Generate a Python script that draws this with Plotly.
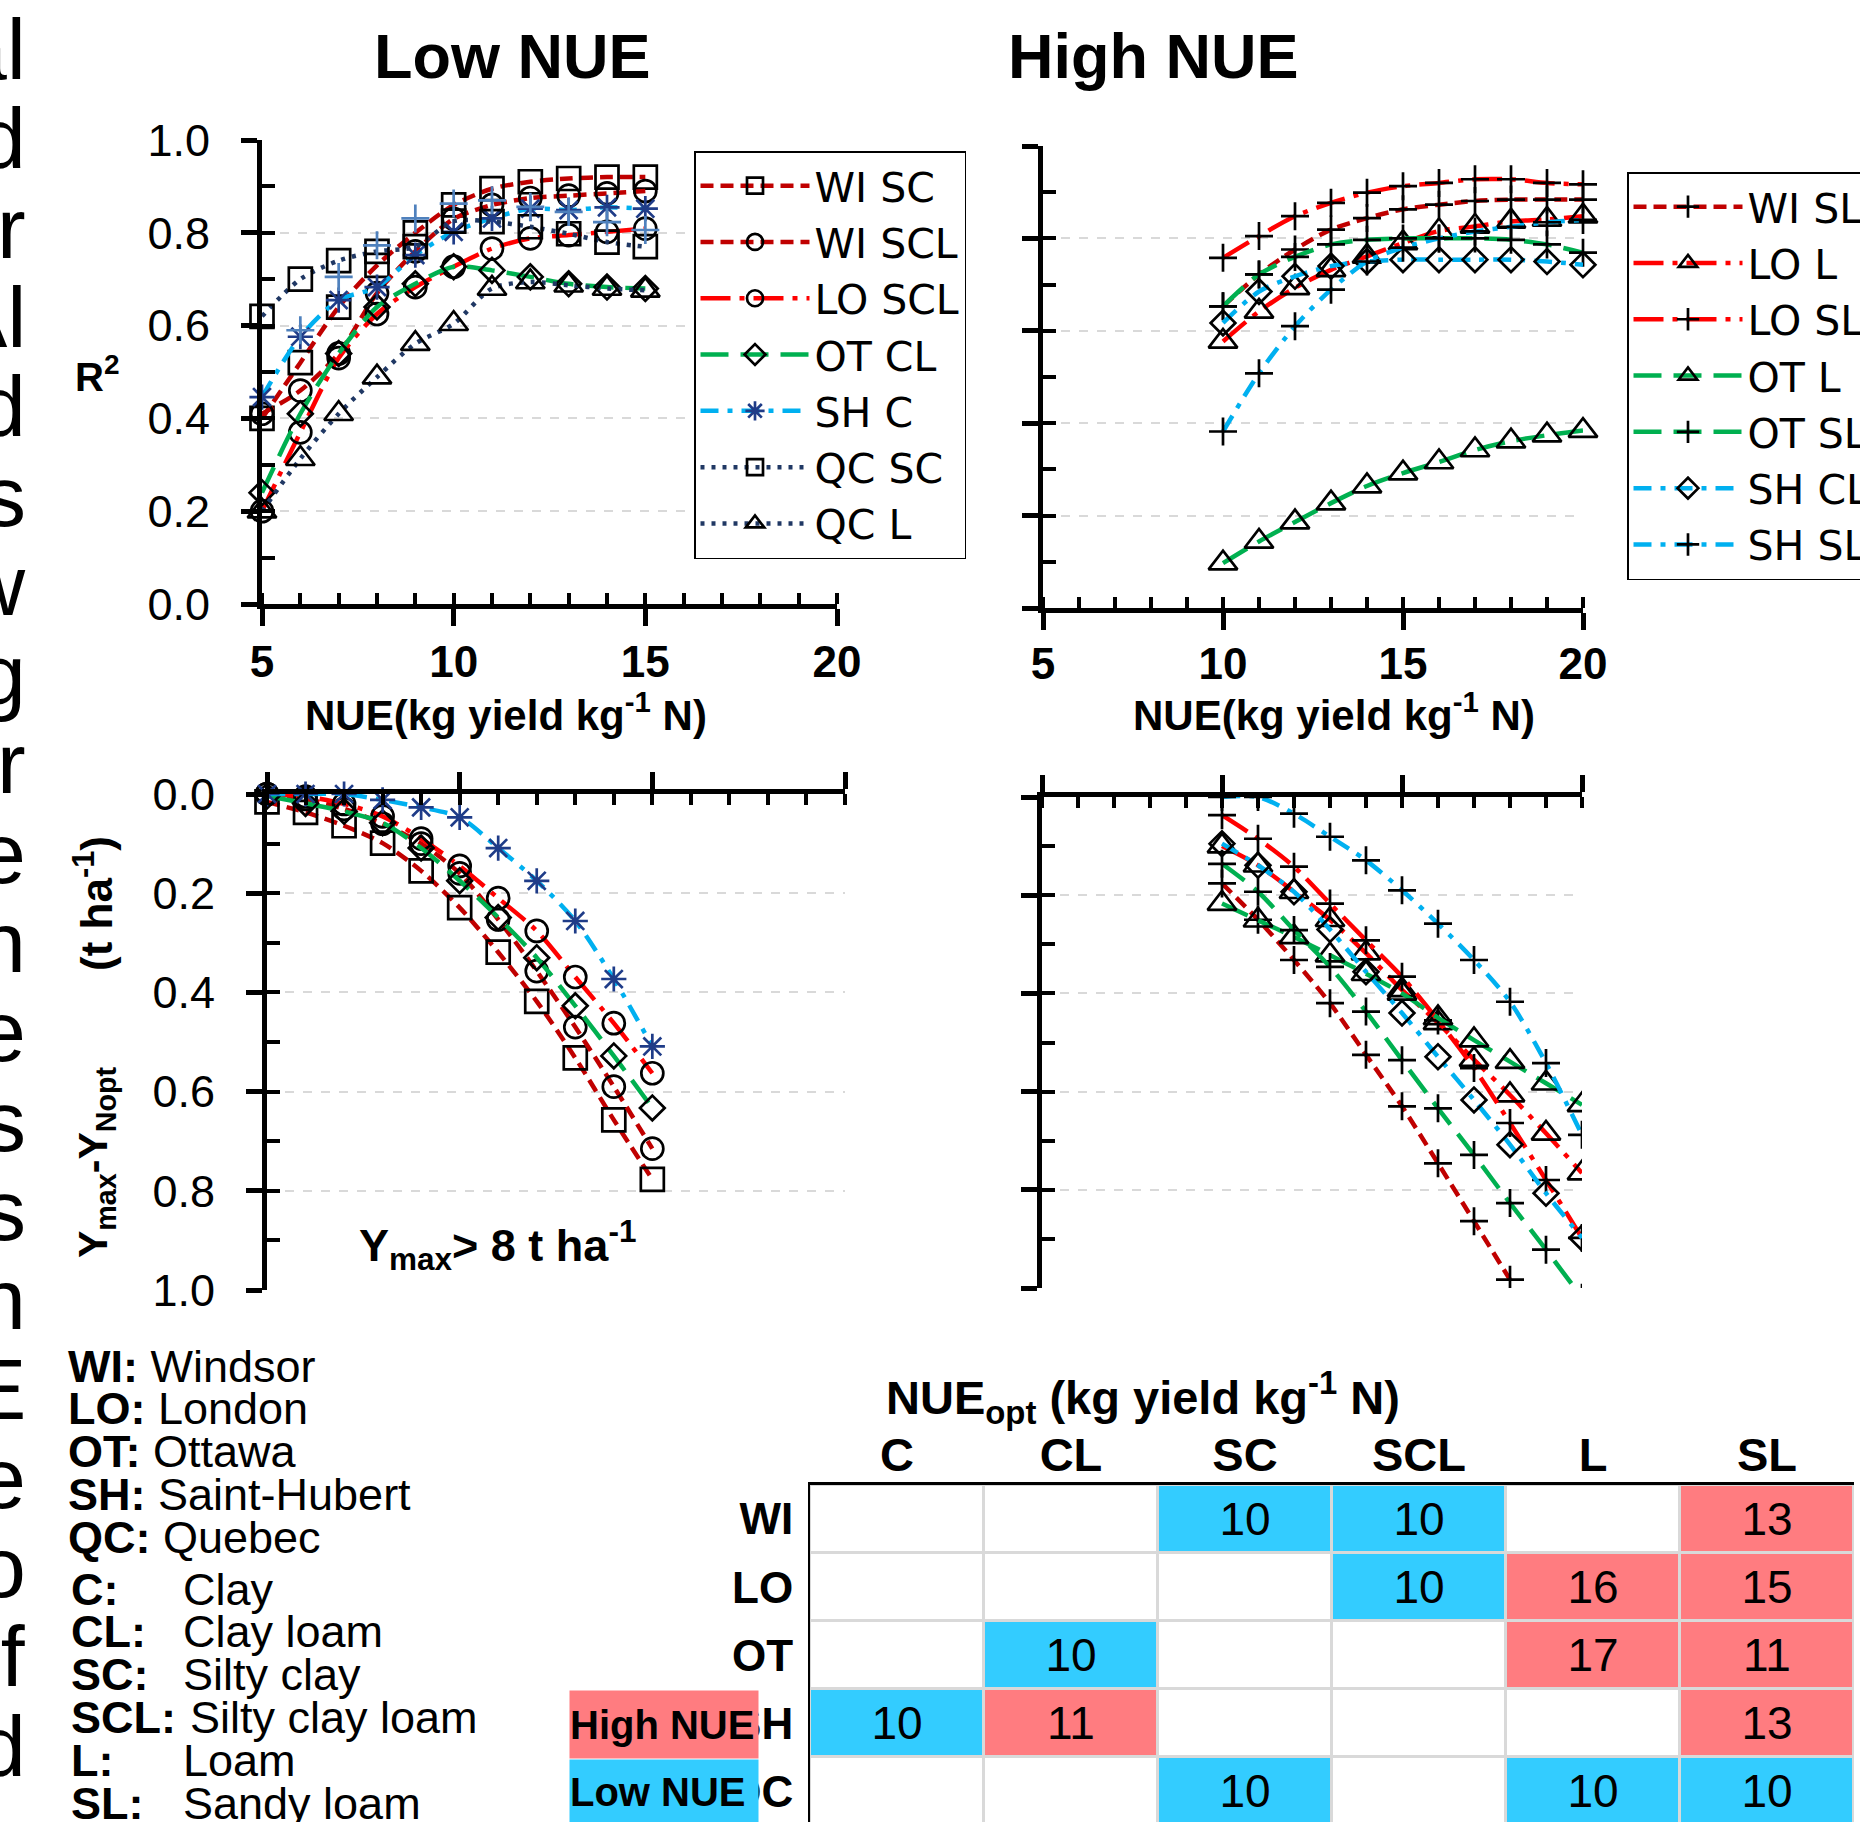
import plotly.graph_objects as go

W, H = 1860, 1822
def fx(px): return px / W
def fy(py): return 1 - py / H

# ---------------- data ----------------
nue_low = [5, 6, 7, 8, 9, 10, 11, 12, 13, 14, 15]
nue_high = [10, 11, 12, 13, 14, 15, 16, 17, 18, 19, 20]

# R2 vs NUE, low-NUE sites/soils
r2_wi_sc = [0.40, 0.52, 0.64, 0.73, 0.80, 0.86, 0.895, 0.91, 0.917, 0.92, 0.92]
r2_wi_scl = [0.41, 0.46, 0.54, 0.67, 0.76, 0.83, 0.86, 0.875, 0.88, 0.885, 0.89]
r2_lo_scl = [0.20, 0.37, 0.53, 0.625, 0.683, 0.727, 0.766, 0.788, 0.795, 0.802, 0.809]
r2_ot_cl = [0.24, 0.41, 0.54, 0.64, 0.69, 0.727, 0.719, 0.705, 0.69, 0.683, 0.68]
r2_sh_c = [0.446, 0.576, 0.655, 0.683, 0.752, 0.802, 0.831, 0.852, 0.849, 0.855, 0.852]
r2_qc_sc = [0.62, 0.70, 0.74, 0.76, 0.77, 0.825, 0.824, 0.813, 0.798, 0.78, 0.77]
r2_qc_l = [0.20, 0.313, 0.41, 0.489, 0.561, 0.604, 0.68, 0.694, 0.687, 0.68, 0.676]
r2_extra_plus = [0.59, 0.705, 0.773, 0.831, 0.863, 0.87, 0.856, 0.845, 0.823, 0.806]  # NUE 6..15

# R2 vs NUE, high-NUE sites/soils
r2_wi_sl = [0.653, 0.722, 0.776, 0.819, 0.844, 0.863, 0.873, 0.881, 0.884, 0.884, 0.884]
r2_lo_l = [0.577, 0.642, 0.693, 0.732, 0.761, 0.79, 0.816, 0.826, 0.837, 0.841, 0.848]
r2_lo_sl = [0.758, 0.805, 0.848, 0.877, 0.899, 0.913, 0.92, 0.928, 0.928, 0.92, 0.917]
r2_ot_l = [0.097, 0.144, 0.186, 0.227, 0.264, 0.292, 0.316, 0.342, 0.361, 0.374, 0.384]
r2_ot_sl = [0.653, 0.722, 0.76, 0.787, 0.797, 0.80, 0.80, 0.80, 0.797, 0.787, 0.769]
r2_sh_cl = [0.617, 0.685, 0.718, 0.74, 0.75, 0.754, 0.754, 0.754, 0.754, 0.75, 0.743]
r2_sh_sl = [0.382, 0.508, 0.61, 0.689, 0.75, 0.78, 0.80, 0.815, 0.825, 0.835, 0.84]

# Ymax - YNopt (t/ha), low NUE
loss_wi_sc = [0.016, 0.037, 0.064, 0.099, 0.155, 0.229, 0.319, 0.418, 0.532, 0.657, 0.777]
loss_wi_scl = [0.0, 0.01, 0.03, 0.06, 0.10, 0.16, 0.253, 0.357, 0.47, 0.59, 0.715]
loss_lo_scl = [0.0, 0.005, 0.02, 0.045, 0.09, 0.145, 0.21, 0.276, 0.369, 0.462, 0.563]
loss_ot_cl = [0.004, 0.019, 0.035, 0.058, 0.109, 0.175, 0.249, 0.33, 0.427, 0.528, 0.633]
loss_sh_c = [0.0, 0.0, 0.0, 0.012, 0.027, 0.047, 0.109, 0.175, 0.256, 0.373, 0.509]

# Ymax - YNopt (t/ha), high NUE
loss_wi_sl = [0.176, 0.25, 0.332, 0.42, 0.525, 0.63, 0.746, 0.864, 0.983]  # NUE 10..18
loss_lo_l = [0.10, 0.139, 0.193, 0.25, 0.318, 0.393, 0.46, 0.535, 0.607, 0.685, 0.766]
loss_lo_sl = [0.037, 0.085, 0.142, 0.217, 0.292, 0.366, 0.455, 0.552, 0.664, 0.78, 0.898]
loss_ot_l = [0.217, 0.251, 0.285, 0.322, 0.36, 0.40, 0.45, 0.495, 0.539, 0.583, 0.627]
loss_ot_sl = [0.136, 0.193, 0.271, 0.346, 0.437, 0.536, 0.634, 0.729, 0.827, 0.922, 1.02]
loss_sh_cl = [0.095, 0.139, 0.193, 0.27, 0.356, 0.44, 0.529, 0.617, 0.708, 0.807, 0.898]
loss_sh_sl = [0.0, 0.0, 0.034, 0.081, 0.129, 0.19, 0.258, 0.332, 0.417, 0.542, 0.688]

# NUEopt table
soils = ["C", "CL", "SC", "SCL", "L", "SL"]
sites = ["WI", "LO", "OT", "SH", "QC"]
nue_opt = [
    [None, None, 10, 10, None, 13],
    [None, None, None, 10, 16, 15],
    [None, 10, None, None, 17, 11],
    [10, 11, None, None, None, 13],
    [None, None, 10, None, 10, 10],
]
nue_class = [
    ["", "", "Low", "Low", "", "High"],
    ["", "", "", "Low", "High", "High"],
    ["", "Low", "", "", "High", "High"],
    ["Low", "High", "", "", "", "High"],
    ["", "", "Low", "", "Low", "Low"],
]

site_names = [("WI", "Windsor"), ("LO", "London"), ("OT", "Ottawa"),
              ("SH", "Saint-Hubert"), ("QC", "Quebec")]
soil_names = [("C:", "Clay"), ("CL:", "Clay loam"), ("SC:", "Silty clay"),
              ("SCL:", "Silty clay loam"), ("L:", "Loam"), ("SL:", "Sandy loam")]
margin_words = ["al", "d", "r", "Al", "d", "s", "w", "g", "r", "e",
                "n", "e", "s", "s", "n", "E", "e", "o", "of", "d"]

# ---------------- styles ----------------
FONT = "Liberation Sans"
SITE_STYLE = {
    "WI": dict(color="#C00000", dash="13px,7px"),
    "LO": dict(color="#FF0000", dash="30px,9px,5px,9px"),
    "OT": dict(color="#00B050", dash="28px,12px"),
    "SH": dict(color="#00B0F0", dash="18px,9px,5px,9px"),
    "QC": dict(color="#203864", dash="4px,7px"),
}
SOIL_MARK = {
    "SC": ("square-open", 23), "SCL": ("circle-open", 22), "CL": ("diamond-open", 19),
    "C": ("asterisk-open", 21), "L": ("triangle-up-open", 25), "SL": ("cross-thin-open", 20),
}

fig = go.Figure()

def add_series(x, y, site, soil, xa, ya, legend, showlegend, clip):
    st = SITE_STYLE[site]
    sym, size = SOIL_MARK[soil]
    mcol = "#1F3C88" if soil == "C" else "black"
    fig.add_trace(go.Scatter(
        x=x[:len(y)], y=y, name=f"{site} {soil}", mode="lines+markers",
        line=dict(color=st["color"], width=4.5, dash=st["dash"], shape="spline", smoothing=0.8),
        marker=dict(symbol=sym, size=size, color=mcol, line=dict(color=mcol, width=2.7)),
        xaxis=xa, yaxis=ya, legend=legend, showlegend=showlegend,
        cliponaxis=clip, hoverinfo="skip"))

# top-left: low NUE R2
for site, soil, y in [("WI", "SC", r2_wi_sc), ("WI", "SCL", r2_wi_scl), ("LO", "SCL", r2_lo_scl),
                      ("OT", "CL", r2_ot_cl), ("SH", "C", r2_sh_c), ("QC", "SC", r2_qc_sc),
                      ("QC", "L", r2_qc_l)]:
    add_series(nue_low, y, site, soil, "x", "y", "legend", True, False)
fig.add_trace(go.Scatter(x=nue_low[1:], y=r2_extra_plus, mode="markers", showlegend=False,
                         marker=dict(symbol="cross-thin-open", size=20, color="#4F81BD",
                                     line=dict(color="#4F81BD", width=2.7)),
                         xaxis="x", yaxis="y", cliponaxis=False, hoverinfo="skip"))

# top-right: high NUE R2
for site, soil, y in [("WI", "SL", r2_wi_sl), ("LO", "L", r2_lo_l), ("LO", "SL", r2_lo_sl),
                      ("OT", "L", r2_ot_l), ("OT", "SL", r2_ot_sl), ("SH", "CL", r2_sh_cl),
                      ("SH", "SL", r2_sh_sl)]:
    add_series(nue_high, y, site, soil, "x2", "y2", "legend2", True, False)

# bottom-left: low NUE yield loss
for site, soil, y in [("WI", "SC", loss_wi_sc), ("WI", "SCL", loss_wi_scl), ("LO", "SCL", loss_lo_scl),
                      ("OT", "CL", loss_ot_cl), ("SH", "C", loss_sh_c)]:
    add_series(nue_low, y, site, soil, "x3", "y3", "legend", False, False)

# bottom-right: high NUE yield loss
for site, soil, y in [("WI", "SL", loss_wi_sl), ("LO", "L", loss_lo_l), ("LO", "SL", loss_lo_sl),
                      ("OT", "L", loss_ot_l), ("OT", "SL", loss_ot_sl), ("SH", "CL", loss_sh_cl),
                      ("SH", "SL", loss_sh_sl)]:
    add_series(nue_high, y, site, soil, "x4", "y4", "legend2", False, True)

# empty traces so the inside-tick overlay axes exist
for xa, ya in [("x", "y6"), ("x2", "y7"), ("x3", "y8"), ("x4", "y9")]:
    fig.add_trace(go.Scatter(x=[], y=[], xaxis=xa, yaxis=ya, showlegend=False, hoverinfo="skip"))

# table heatmap
code = {"": 0, "Low": 1, "High": 2}
zc = [[code[c] for c in row] for row in nue_class]
txt = [["" if v is None else str(v) for v in row] for row in nue_opt]
fig.add_trace(go.Heatmap(
    x=soils, y=sites, z=zc, text=txt, texttemplate="%{text}",
    textfont=dict(family=FONT, size=46, color="black"),
    colorscale=[[0, "white"], [0.33, "white"], [0.34, "#33CCFF"], [0.66, "#33CCFF"],
                [0.67, "#FF7C80"], [1, "#FF7C80"]],
    zmin=0, zmax=2, showscale=False, xgap=3, ygap=3,
    xaxis="x5", yaxis="y5", hoverinfo="skip"))

# ---------------- axes ----------------
def xax(domain, anchor, side, labels):
    return dict(domain=domain, anchor=anchor, side=side, range=[5, 20], dtick=5, tick0=5,
                showline=True, linecolor="black", linewidth=5, ticks="outside", ticklen=17,
                tickwidth=5, tickcolor="black", showticklabels=labels,
                tickfont=dict(family=FONT, size=44, color="black", weight="bold"),
                ticklabelstandoff=0, showgrid=False, zeroline=False, automargin=False,
                minor=dict(ticks="inside", ticklen=11, tickwidth=4, tickcolor="black",
                           dtick=1, tick0=5, showgrid=False))

def yax(domain, anchor, rng, labels):
    return dict(domain=domain, anchor=anchor, range=rng, dtick=0.2, tick0=0, tickformat=".1f",
                showline=True, linecolor="black", linewidth=5, ticks="outside", ticklen=16,
                tickwidth=5, tickcolor="black", showticklabels=labels,
                tickfont=dict(family=FONT, size=45, color="black"), ticklabelstandoff=22,
                showgrid=True, gridcolor="#D9D9D9", gridwidth=2, griddash="dash",
                zeroline=False, automargin=False)

def yin(over, anchor, rng):
    return dict(overlaying=over, anchor=anchor, side="left", range=rng, dtick=0.1, tick0=0,
                ticks="inside", ticklen=13, tickwidth=4, tickcolor="black", showline=False,
                showgrid=False, zeroline=False, showticklabels=False, automargin=False)

layout = dict(
    width=W, height=H, margin=dict(l=0, r=0, t=0, b=0, autoexpand=False),
    paper_bgcolor="white", plot_bgcolor="white",
    font=dict(family=FONT, color="black"),
    xaxis=xax([fx(262), fx(837)], "y", "bottom", True),
    yaxis=yax([fy(604), fy(140)], "x", [0, 1], True),
    xaxis2=xax([fx(1043), fx(1583)], "y2", "bottom", True),
    yaxis2=yax([fy(608), fy(146)], "x2", [0, 1], False),
    xaxis3=xax([fx(267), fx(845)], "y3", "top", False),
    yaxis3=yax([fy(1290), fy(794)], "x3", [1, 0], True),
    xaxis4=xax([fx(1042), fx(1582)], "y4", "top", False),
    yaxis4=yax([fy(1288), fy(797)], "x4", [1, 0], False),
    yaxis6=yin("y", "x", [0, 1]),
    yaxis7=yin("y2", "x2", [0, 1]),
    yaxis8=yin("y3", "x3", [1, 0]),
    yaxis9=yin("y4", "x4", [1, 0]),
    xaxis5=dict(domain=[fx(810), fx(1854)], anchor="y5", side="top", type="category",
                range=[-0.5, len(soils) - 0.5], showline=True, linecolor="black", linewidth=3,
                ticks="", showgrid=False, zeroline=False, ticklabelstandoff=0, automargin=False,
                tickfont=dict(family=FONT, size=47, color="black", weight="bold")),
    yaxis5=dict(domain=[0, fy(1485)], anchor="x5", type="category",
                range=[len(sites) - 0.55, -0.5], showline=True, linecolor="black", linewidth=2,
                ticks="", showgrid=False, zeroline=False, ticklabelstandoff=6, automargin=False,
                tickfont=dict(family=FONT, size=44, color="black", weight="bold")),
    legend=dict(x=fx(694), y=fy(151), xanchor="left", yanchor="top", bgcolor="white",
                bordercolor="black", borderwidth=1.5, itemwidth=109, tracegroupgap=0,
                font=dict(family="DejaVu Sans", size=41, color="black")),
    legend2=dict(x=fx(1627), y=fy(172), xanchor="left", yanchor="top", bgcolor="white",
                 bordercolor="black", borderwidth=1.5, itemwidth=109, tracegroupgap=0,
                 font=dict(family="DejaVu Sans", size=41, color="black")),
    shapes=[dict(type="rect", xref="x5", yref="y5", x0=-0.5, x1=len(soils) - 0.5,
                 y0=-0.5, y1=len(sites) - 0.5, fillcolor="#D9D9D9", line=dict(width=0),
                 layer="below")],
)
fig.update_layout(**layout)

# nudge tick labels a little closer to their axes where allowed
for key, val in [("xaxis5_ticklabelstandoff", -8), ("xaxis2_ticklabelstandoff", -4),
                 ("xaxis_ticklabelstandoff", -2)]:
    try:
        fig.update_layout(**{key: val})
    except Exception:
        pass

ann = []
def text(x, y, s, size, xanchor="center", yanchor="middle", angle=0, family=FONT, **kw):
    ann.append(dict(x=fx(x), y=fy(y), xref="paper", yref="paper", text=s, showarrow=False,
                    xanchor=xanchor, yanchor=yanchor, textangle=angle,
                    font=dict(family=family, size=size, color="black"), **kw))

text(512, 56, "<b>Low NUE</b>", 63)
text(1153, 56, "<b>High NUE</b>", 63)
text(506, 712, "<b>NUE(kg yield kg<sup>-1</sup> N)</b>", 42)
text(1334, 712, "<b>NUE(kg yield kg<sup>-1</sup> N)</b>", 42)
text(97, 374, "<b>R<sup>2</sup></b>", 40)
text(94, 904, "<b>(t ha<sup>-1</sup>)</b>", 44, angle=-90)
text(96, 1162, "<b>Y<sub>max</sub>-Y<sub>Nopt</sub></b>", 41, angle=-90)
text(497, 1245, "<b>Y<sub>max</sub>> 8 t ha<sup>-1</sup></b>", 45)
text(1143, 1397, "<b>NUE<sub>opt</sub> (kg yield kg<sup>-1</sup> N)</b>", 47)

for i, (ab, nm) in enumerate(site_names):
    text(66, 1366 + i * 42.8, f"<b>{ab}:</b> {nm}", 45, xanchor="left")
for i, (ab, nm) in enumerate(soil_names):
    yy = 1589 + i * 42.8
    text(69, yy, f"<b>{ab}</b>", 45, xanchor="left")
    text(188 if ab == "SCL:" else 181, yy, nm, 45, xanchor="left")

for i, w in enumerate(margin_words):
    text(28, 49 + i * 89.3, w, 86, xanchor="right")

text(569, 1690, "<b>High NUE</b>", 40, xanchor="left", yanchor="top",
     width=188, height=67, bgcolor="#FF7C80", align="left", valign="middle", borderpad=0)
text(569, 1759, "<b>Low NUE</b>", 40, xanchor="left", yanchor="top",
     width=188, height=64, bgcolor="#33CCFF", align="left", valign="middle", borderpad=0)

fig.update_layout(annotations=ann)
fig.write_html("out.html")
